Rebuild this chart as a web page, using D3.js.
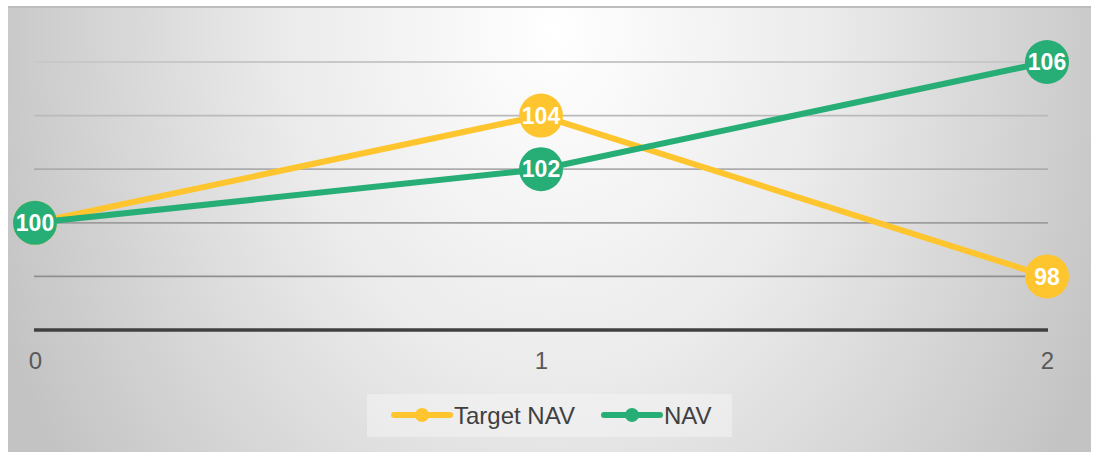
<!DOCTYPE html>
<html>
<head>
<meta charset="utf-8">
<script src="https://cdn.jsdelivr.net/npm/d3@7"></script>
<style>
  body { margin: 0; background: #fff; }
  svg { display: block; font-family: "Liberation Sans", Arial, sans-serif; }
</style>
</head>
<body>
<div id="chart"></div>
<script>
// data
const steps = [0, 1, 2];
const targetNav = [100, 104, 98];
const nav = [100, 102, 106];
const gridValues = [98, 100, 102, 104, 106];
const seriesNames = ['Target NAV', 'NAV'];

const width = 1097;
const height = 452;
const colors = {target: '#FFC52F', nav: '#27AE76'};

const svg = d3.create('svg')
  .attr('width', width)
  .attr('height', height);

// background gradient, white towards top center
const defs = svg.append('defs');
const grad = defs.append('radialGradient')
  .attr('id', 'bg')
  .attr('gradientUnits', 'userSpaceOnUse')
  .attr('cx', 555).attr('cy', 30).attr('r', 600)
  .attr('gradientTransform', 'translate(555,30) scale(1,1.3) translate(-555,-30)');
grad.append('stop').attr('offset', 0).attr('stop-color', '#ffffff');
grad.append('stop').attr('offset', 0.45).attr('stop-color', '#ebebeb');
grad.append('stop').attr('offset', 1).attr('stop-color', '#c3c3c3');

svg.append('rect')
  .attr('x', 8).attr('y', 6)
  .attr('width', 1083).attr('height', 446)
  .attr('fill', 'url(#bg)');
svg.append('line')
  .attr('x1', 8).attr('x2', 1091).attr('y1', 7).attr('y2', 7)
  .attr('stroke', '#bdbdbd').attr('stroke-width', 2);

// scales
const xScale = d3.scaleLinear().domain([0, 2]).range([35, 1047]);
const yScale = d3.scaleLinear().domain([96, 106]).range([330, 62]);

// gridlines, darker towards the bottom
const gridColor = d3.scaleLinear().domain([98, 106]).range(['#8f8f8f', '#c8c8c8']);
svg.append('g')
  .selectAll('line')
  .data(gridValues)
  .join('line')
  .attr('x1', 34).attr('x2', 1048)
  .attr('y1', d => yScale(d)).attr('y2', d => yScale(d))
  .attr('stroke', d => gridColor(d))
  .attr('stroke-width', 1.8);

// x axis
const xAxis = svg.append('g')
  .attr('transform', `translate(0, ${yScale(96)})`)
  .call(d3.axisBottom(xScale).tickValues(steps).tickFormat(d3.format('d')).tickSize(0).tickPadding(22));
xAxis.select('.domain')
  .attr('stroke', '#404040')
  .attr('stroke-width', 3.5)
  .attr('d', `M34,0H1048`);
xAxis.selectAll('text')
  .attr('font-size', '24px')
  .attr('fill', '#595959')
  .attr('font-family', '"Liberation Sans", Arial, sans-serif');

// series
const series = [
  {name: seriesNames[0], values: targetNav, color: colors.target},
  {name: seriesNames[1], values: nav, color: colors.nav}
];

const line = d3.line()
  .x((d, i) => xScale(steps[i]))
  .y(d => yScale(d));

series.forEach(s => {
  const g = svg.append('g');
  g.append('path')
    .attr('d', line(s.values))
    .attr('fill', 'none')
    .attr('stroke', s.color)
    .attr('stroke-width', 6)
    .attr('stroke-linejoin', 'round');
  const pts = g.selectAll('g.pt')
    .data(s.values)
    .join('g')
    .attr('class', 'pt')
    .attr('transform', (d, i) => `translate(${xScale(steps[i])}, ${yScale(d)})`);
  pts.append('circle')
    .attr('r', 22)
    .attr('fill', s.color);
  pts.append('text')
    .attr('text-anchor', 'middle')
    .attr('dy', '0.36em')
    .attr('fill', '#fff')
    .attr('font-weight', 'bold')
    .attr('font-size', '23px')
    .text(d => d);
});

// legend
const legend = svg.append('g');
legend.append('rect')
  .attr('x', 367).attr('y', 394)
  .attr('width', 365).attr('height', 43)
  .attr('fill', '#f4f4f4').attr('opacity', 0.55);

const legendItems = [
  {name: seriesNames[0], color: colors.target, x: 394},
  {name: seriesNames[1], color: colors.nav, x: 604}
];
legendItems.forEach(item => {
  const g = legend.append('g').attr('transform', `translate(${item.x}, 415)`);
  g.append('line')
    .attr('x1', 0).attr('x2', 56)
    .attr('stroke', item.color)
    .attr('stroke-width', 6)
    .attr('stroke-linecap', 'round');
  g.append('circle')
    .attr('cx', 28).attr('r', 7)
    .attr('fill', item.color);
  g.append('text')
    .attr('x', 60).attr('dy', '0.36em')
    .attr('font-size', '24px')
    .attr('fill', '#404040')
    .text(item.name);
});

document.getElementById('chart').appendChild(svg.node());
</script>
</body>
</html>
